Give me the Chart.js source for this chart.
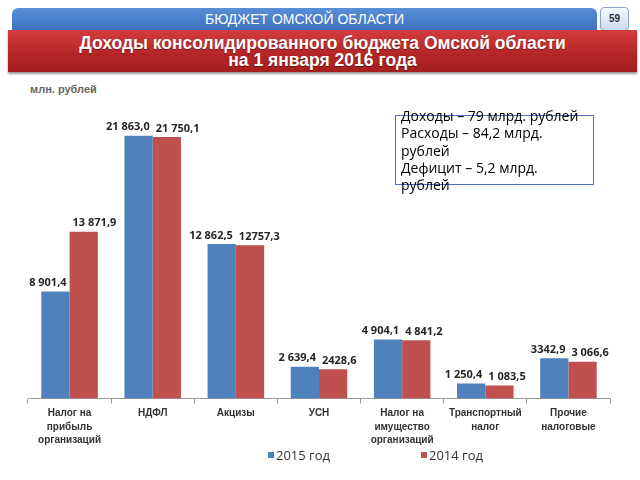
<!DOCTYPE html>
<html>
<head>
<meta charset="utf-8">
<script src="https://cdn.jsdelivr.net/npm/chart.js@4"></script>
<style>
  body { margin: 0; width: 640px; height: 480px; background: #fff; position: relative; overflow: hidden; font-family: "Liberation Sans", Arial, sans-serif; }
  #topBar { position: absolute; left: 12px; top: 8px; width: 585px; height: 24px; border-radius: 6px 6px 0 0;
    background: linear-gradient(#5a8fd6, #3a6fc0); color: #fff; font-size: 14px; text-align: center; line-height: 22px; }
  #pageNum { position: absolute; left: 600px; top: 7px; width: 27px; height: 22px; border: 1px solid #8aa6cc; border-radius: 4px;
    background: linear-gradient(#f4f8fd, #cbdaf0); font-size: 10px; font-weight: bold; color: #333; text-align: center; line-height: 22px; }
  #titleBar { position: absolute; left: 8px; top: 30px; width: 629px; height: 42px;
    background: linear-gradient(#d33c3c, #b32525 60%, #a51f1f); color: #fff; font-weight: bold; font-size: 17.5px;
    text-shadow: 0 1px 1px rgba(0,0,0,0.4);
    text-align: center; line-height: 17px; padding-top: 5px; box-sizing: border-box; box-shadow: 0 2px 2px #999; }
  #units { position: absolute; left: 30px; top: 83px; font-size: 11px; font-weight: bold; color: #666; }
  #infoBox { position: absolute; left: 395px; top: 115px; width: 197px; height: 68px; border: 1.5px solid #4a72c0; }
  #infoText { position: absolute; left: 401px; top: 107px; font-family: "Open Sans", "DejaVu Sans", sans-serif; font-size: 14px; line-height: 17.3px; color: #000; }
  #legend { position: absolute; top: 446px; left: 0; width: 640px; font-family: "Open Sans", "DejaVu Sans", sans-serif; font-size: 13px; color: #333; }
  #legend span { position: absolute; white-space: nowrap; }
  #legend i { display: inline-block; width: 6px; height: 6px; margin-right: 2px; vertical-align: 2px; }
  #chartWrap { position: absolute; left: 0; top: 100px; width: 640px; height: 380px; }
</style>
</head>
<body>
<div id="topBar">БЮДЖЕТ ОМСКОЙ ОБЛАСТИ</div>
<div id="pageNum">59</div>
<div id="titleBar">Доходы консолидированного бюджета Омской области<br>на 1 января 2016 года</div>
<div id="units">млн. рублей</div>
<div id="chartWrap"><canvas id="budgetChart" width="640" height="380"></canvas></div>
<div id="infoBox"></div>
<div id="infoText">Доходы – 79 млрд. рублей<br>Расходы – 84,2 млрд.<br>рублей<br>Дефицит – 5,2 млрд.<br>рублей</div>
<div id="legend"></div>

<script>
// Категории налогов
const categories = [
    ['Налог на', 'прибыль', 'организаций'],
    'НДФЛ',
    'Акцизы',
    'УСН',
    ['Налог на', 'имущество', 'организаций'],
    ['Транспортный', 'налог'],
    ['Прочие', 'налоговые']
];

// Значения по годам (млн. рублей)
const values2015 = [8901.4, 21863.0, 12862.5, 2639.4, 4904.1, 1250.4, 3342.9];
const values2014 = [13871.9, 21750.1, 12757.3, 2428.6, 4841.2, 1083.5, 3066.6];

// Подписи как на слайде
const labels2015 = ['8 901,4', '21 863,0', '12 862,5', '2 639,4', '4 904,1', '1 250,4', '3342,9'];
const labels2014 = ['13 871,9', '21 750,1', '12757,3', '2428,6', '4 841,2', '1 083,5', '3 066,6'];

const seriesNames = ['2015 год', '2014 год'];
const colors = ['#4f81bd', '#c0504d'];
const legendX = [268, 421];

// Легенда
document.getElementById('legend').innerHTML = seriesNames
    .map((name, i) => `<span style="left:${legendX[i]}px"><i style="background:${colors[i]}"></i>${name}</span>`)
    .join('');

// Подписи значений над столбцами
const valueLabels = {
    id: 'valueLabels',
    afterDatasetsDraw(chart) {
        const ctx = chart.ctx;
        const texts = [labels2015, labels2014];
        ctx.save();
        ctx.font = 'bold 11px "Open Sans", "DejaVu Sans", sans-serif';
        ctx.fillStyle = '#262626';
        ctx.textBaseline = 'bottom';
        chart.data.datasets.forEach((ds, i) => {
            chart.getDatasetMeta(i).data.forEach((bar, j) => {
                if (i === 0) {
                    ctx.textAlign = 'right';
                    ctx.fillText(texts[i][j], bar.x + bar.width / 2 - 3, bar.y - 3);
                } else {
                    ctx.textAlign = 'left';
                    ctx.fillText(texts[i][j], bar.x - bar.width / 2 + 3, bar.y - 3);
                }
            });
        });
        ctx.restore();
    }
};

const ctx = document.getElementById('budgetChart').getContext('2d');
new Chart(ctx, {
    type: 'bar',
    data: {
        labels: categories,
        datasets: [
            { label: seriesNames[0], data: values2015, backgroundColor: colors[0] },
            { label: seriesNames[1], data: values2014, backgroundColor: colors[1] }
        ]
    },
    options: {
        responsive: false,
        animation: false,
        datasets: { bar: { categoryPercentage: 0.68, barPercentage: 1 } },
        layout: { padding: { left: 28, right: 30, top: 10, bottom: 30 } },
        plugins: {
            legend: { display: false },
            tooltip: { enabled: false }
        },
        scales: {
            x: {
                grid: { display: true, drawOnChartArea: false, drawTicks: true, tickLength: 5, color: '#999', offset: true },
                border: { color: '#999' },
                ticks: {
                    color: '#333',
                    padding: 3,
                    maxRotation: 0,
                    autoSkip: false,
                    font: { size: 10, weight: 'bold', lineHeight: 1.35, family: '"Liberation Sans", Arial, sans-serif' }
                }
            },
            y: {
                display: false,
                min: 0,
                max: 24000
            }
        }
    },
    plugins: [valueLabels]
});
</script>
</body>
</html>
